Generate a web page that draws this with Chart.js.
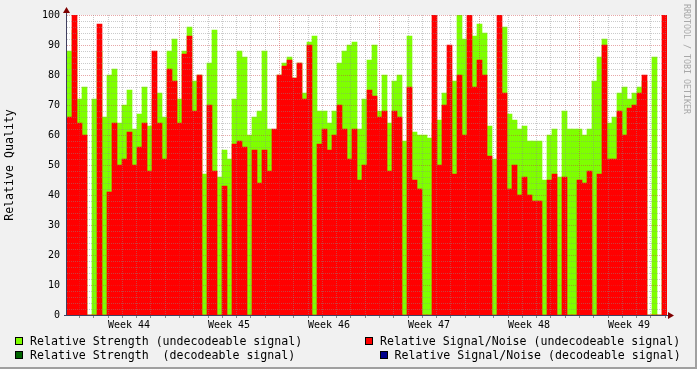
<!DOCTYPE html>
<html>
<head>
<meta charset="utf-8">
<script src="https://cdn.jsdelivr.net/npm/chart.js@4.4.1/dist/chart.umd.min.js"></script>
<style>
  html, body { margin: 0; padding: 0; background: #f1f1f1; }
  #wrap { position: relative; width: 697px; height: 369px; overflow: hidden; }
  canvas { position: absolute; left: 0; top: 0; }
  .lg { position: absolute; font-family: 'DejaVu Sans Mono', monospace; font-size: 11.6px; line-height: 14px; height: 14px; white-space: pre; color: #000; }
  .box { position: absolute; width: 6px; height: 6px; border: 1px solid #000; }
  #mark { position: absolute; left: 681px; top: 4px; font-family: 'DejaVu Sans Mono', monospace; font-size: 8.3px; line-height: 11px; color: #a8a8a8; writing-mode: vertical-rl; white-space: pre; }
</style>
</head>
<body>
<div id="wrap">
  <canvas id="chart" width="697" height="369"></canvas>
  <div id="legend"></div>
  <div id="mark">RRDTOOL / TOBI OETIKER</div>
</div>
<script>
// 120 samples, 5 px each, spanning 6 weeks
const strength = [
  88, 95, 72, 76, 0, 72, 88, 66, 80, 82,
  64, 70, 75, 62, 67, 76, 63, 72, 74, 66,
  88, 92, 72, 88, 96, 78, 80, 47, 84, 95,
  46, 55, 52, 72, 88, 86, 60, 66, 68, 88,
  62, 58, 80, 84, 86, 79, 84, 74, 91, 93,
  68, 68, 64, 68, 84, 88, 90, 91, 62, 72,
  85, 90, 68, 80, 64, 78, 80, 58, 93, 61,
  60, 60, 59, 64, 65, 74, 80, 78, 100, 92,
  95, 93, 97, 94, 63, 52, 92, 96, 67, 65,
  62, 63, 58, 58, 58, 45, 60, 62, 46, 68,
  62, 62, 62, 60, 62, 78, 86, 92, 64, 66,
  74, 76, 72, 74, 76, 78, 0, 86, 0, 76
];
const signalNoise = [
  66, 100, 64, 60, 0, 0, 97, 0, 41, 64,
  50, 52, 61, 50, 56, 64, 48, 88, 64, 52,
  82, 78, 64, 87, 93, 68, 80, 0, 70, 48,
  0, 43, 0, 57, 58, 56, 0, 55, 44, 55,
  48, 62, 80, 83, 85, 79, 84, 72, 90, 0,
  57, 62, 55, 60, 70, 62, 52, 62, 45, 50,
  75, 73, 66, 68, 48, 68, 66, 0, 76, 45,
  42, 0, 0, 100, 50, 70, 90, 47, 80, 60,
  100, 76, 85, 80, 53, 0, 100, 74, 42, 50,
  40, 46, 40, 38, 38, 0, 45, 47, 0, 46,
  0, 0, 45, 44, 48, 0, 47, 90, 52, 52,
  68, 60, 69, 70, 74, 80, 0, 0, 0, 100
];
const weekLabels = ['Week 44', 'Week 45', 'Week 46', 'Week 47', 'Week 48', 'Week 49'];
const qualityTicks = [0, 10, 20, 30, 40, 50, 60, 70, 80, 90, 100];
const legendItems = [
  { text: 'Relative Strength (undecodeable signal)', color: '#7fff00' },
  { text: 'Relative Signal/Noise (undecodeable signal)', color: '#ff0000' },
  { text: 'Relative Strength  (decodeable signal)', color: '#006400' },
  { text: 'Relative Signal/Noise (decodeable signal)', color: '#00008b' }
];

const totalDays = 42;
const weekStart = 0.84;   // first monday, in days from left edge
const binDays = totalDays / strength.length;
const mono = "'DejaVu Sans Mono', monospace";

const toPoints = arr => arr.map((v, i) => ({ x: (i + 0.5) * binDays, y: v }));

const rrdLook = {
  id: 'rrdLook',
  beforeDraw(chart) {
    const { ctx, chartArea: a, width, height } = chart;
    ctx.save();
    ctx.fillStyle = '#f1f1f1';
    ctx.fillRect(0, 0, width, height);
    ctx.fillStyle = '#a0a0a0';
    ctx.fillRect(0, height - 2, width, 2);
    ctx.fillRect(width - 2, 0, 2, height);
    ctx.fillStyle = '#ffffff';
    ctx.fillRect(a.left, a.top, a.right - a.left, a.bottom - a.top);
    ctx.restore();
  },
  afterDatasetsDraw(chart) {
    const { ctx, chartArea: a, scales: { x, y } } = chart;
    ctx.save();
    ctx.lineWidth = 1;
    ctx.setLineDash([1, 1]);
    // horizontal grid, every 2 units
    for (let v = 2; v <= 100; v += 2) {
      const py = Math.round(y.getPixelForValue(v)) + 0.5;
      ctx.strokeStyle = v % 10 === 0 ? 'rgba(200,60,60,0.45)' : 'rgba(140,140,140,0.45)';
      ctx.beginPath();
      ctx.moveTo(a.left, py);
      ctx.lineTo(a.right, py);
      ctx.stroke();
    }
    // vertical grid, one per day, weeks stronger
    for (let d = 0; weekStart + d < totalDays; d++) {
      const px = Math.round(x.getPixelForValue(weekStart + d)) + 0.5;
      ctx.strokeStyle = d % 7 === 0 ? 'rgba(200,60,60,0.45)' : 'rgba(140,140,140,0.45)';
      ctx.beginPath();
      ctx.moveTo(px, a.top);
      ctx.lineTo(px, a.bottom);
      ctx.stroke();
    }
    ctx.setLineDash([]);
    // small ticks under the x axis
    ctx.strokeStyle = '#8a8a8a';
    for (let d = 0; weekStart + d < totalDays; d++) {
      const px = Math.round(x.getPixelForValue(weekStart + d)) + 0.5;
      ctx.beginPath();
      ctx.moveTo(px, a.bottom + 1);
      ctx.lineTo(px, a.bottom + 3);
      ctx.stroke();
    }
    // axes
    ctx.strokeStyle = '#404060';
    ctx.beginPath();
    ctx.moveTo(a.left - 0.5, a.bottom + 1);
    ctx.lineTo(a.left - 0.5, a.top - 4);
    ctx.moveTo(a.left - 3, a.bottom + 0.5);
    ctx.lineTo(a.right + 2, a.bottom + 0.5);
    ctx.stroke();
    // arrows
    ctx.fillStyle = '#7f0000';
    ctx.beginPath();
    ctx.moveTo(a.left - 0.5, a.top - 8);
    ctx.lineTo(a.left - 4, a.top - 2);
    ctx.lineTo(a.left + 3, a.top - 2);
    ctx.closePath();
    ctx.fill();
    ctx.beginPath();
    ctx.moveTo(a.right + 7, a.bottom + 0.5);
    ctx.lineTo(a.right + 1, a.bottom - 3);
    ctx.lineTo(a.right + 1, a.bottom + 4);
    ctx.closePath();
    ctx.fill();
    ctx.restore();
  }
};

new Chart(document.getElementById('chart'), {
  type: 'bar',
  data: {
    datasets: [
      { label: legendItems[1].text, data: toPoints(signalNoise), backgroundColor: '#ff0000', order: 0 },
      { label: legendItems[0].text, data: toPoints(strength), backgroundColor: '#7fff00', order: 1 }
    ]
  },
  options: {
    responsive: false,
    animation: false,
    events: [],
    layout: { padding: { top: 15, right: 30, bottom: 34, left: 0 } },
    datasets: { bar: { grouped: false, barPercentage: 1, categoryPercentage: 1, borderWidth: 0 } },
    plugins: { legend: { display: false }, tooltip: { enabled: false } },
    scales: {
      x: {
        type: 'linear', min: 0, max: totalDays, offset: false,
        grid: { display: false, drawTicks: false },
        border: { display: false },
        afterBuildTicks: s => { s.ticks = weekLabels.map((_, k) => ({ value: weekStart + 3.5 + 7 * k })); },
        afterFit: s => { s.height = 20; },
        ticks: {
          autoSkip: false, maxRotation: 0, padding: 4, color: '#000',
          font: { family: mono, size: 10 },
          callback: (v, i) => weekLabels[i]
        }
      },
      y: {
        min: 0, max: 100,
        grid: { display: false, drawTicks: false },
        border: { display: false },
        afterBuildTicks: s => { s.ticks = qualityTicks.map(v => ({ value: v })); },
        afterFit: s => { s.width = 67; },
        ticks: { padding: 7, color: '#000', font: { family: mono, size: 10 } },
        title: { display: true, text: 'Relative Quality', color: '#000', padding: 3, font: { family: mono, size: 11.6 } }
      }
    }
  },
  plugins: [rrdLook]
});

// legend, rrdtool style two rows
const legendPos = [
  { box: [15, 337], text: [30, 334] },
  { box: [365, 337], text: [380, 334] },
  { box: [15, 351], text: [30, 348] },
  { box: [380, 351], text: [394.5, 348] }
];
const legendEl = document.getElementById('legend');
legendItems.forEach((item, i) => {
  const p = legendPos[i];
  const box = document.createElement('div');
  box.className = 'box';
  box.style.left = p.box[0] + 'px';
  box.style.top = p.box[1] + 'px';
  box.style.background = item.color;
  legendEl.appendChild(box);
  const t = document.createElement('div');
  t.className = 'lg';
  t.style.left = p.text[0] + 'px';
  t.style.top = p.text[1] + 'px';
  t.textContent = item.text;
  legendEl.appendChild(t);
});
</script>
</body>
</html>
